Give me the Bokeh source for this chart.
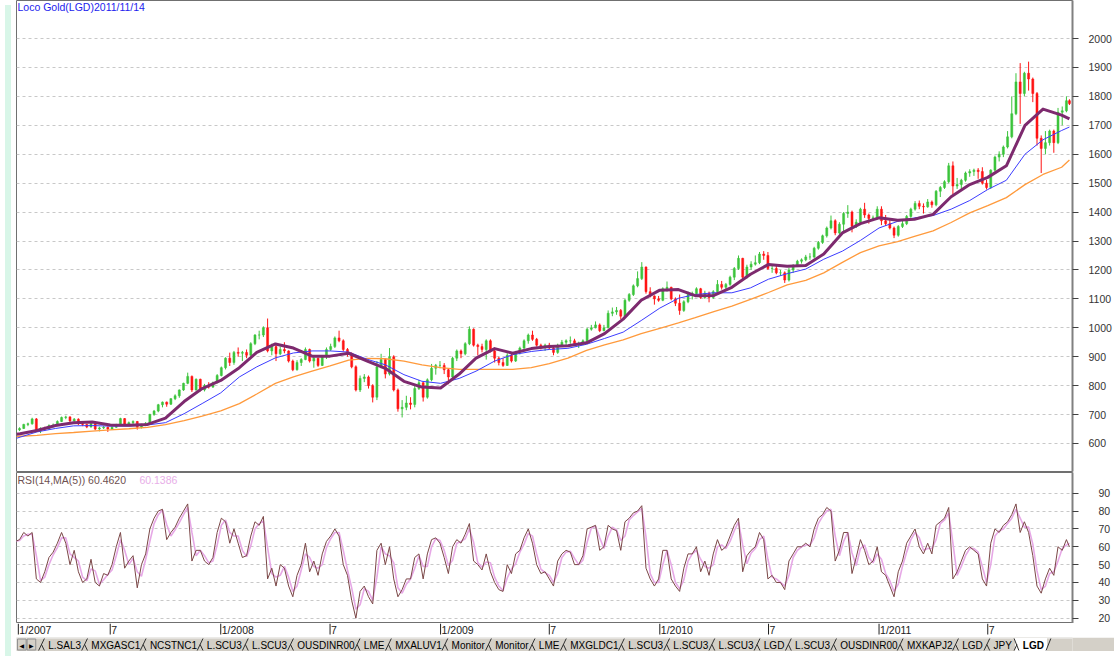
import pandas as pd
from bokeh.plotting import figure
from bokeh.models import Range1d, FixedTicker, Label, ColumnDataSource, Div
from bokeh.layouts import column, row
from bokeh.embed import file_html
from bokeh.resources import INLINE
from bokeh.core.properties import value

FONT = "Liberation Sans"
TITLE = "Loco Gold(LGD)2011/11/14"
RSI_TITLE = "RSI(14,MA(5))  60.4620"
RSI_MA_TITLE = "60.1386"

# ---------------- data (weekly) ----------------
week_end = list(pd.date_range("2007-01-26", "2011-11-11", freq="W-FRI")) + [pd.Timestamp("2011-11-14")]
open_first = 640
close = [
    647, 652, 666, 668, 685, 645, 652, 650, 662, 664, 676, 690, 692, 678, 684, 668, 666, 657,
    668, 650, 654, 656, 650, 656, 665, 686, 667, 672, 676, 656, 664, 670, 700, 712, 734, 743,
    736, 755, 765, 785, 808, 832, 785, 822, 785, 800, 795, 810, 835,
    862, 895, 880, 915, 912, 915, 905, 945, 975, 975, 1000, 920, 935, 910, 925, 920, 885,
    855, 880, 890, 925, 885, 895, 870, 900, 925, 935, 965, 955, 925, 910, 865, 785, 825, 830,
    800, 760, 865, 890, 840, 900, 785, 720, 725, 740, 735, 790, 810, 760, 820, 860, 870,
    870, 855, 830, 895, 920, 910, 945, 995, 940, 935, 925, 955, 920, 895, 880, 870, 905,
    885, 915, 930, 955, 975, 960, 940, 935, 940, 930, 915, 940, 950, 955, 955, 945, 945, 955,
    995, 1000, 1010, 990, 1000, 1050, 1055, 1060, 1040, 1095, 1115, 1145, 1170, 1210, 1125, 1110, 1100,
    1095, 1135, 1140, 1100, 1085, 1060, 1090, 1115, 1118, 1135, 1105, 1120, 1105,
    1125, 1150, 1140, 1150, 1175, 1205, 1240, 1175, 1210, 1220, 1225, 1255, 1250,
    1205, 1205, 1190, 1190, 1165, 1200, 1215, 1230, 1235, 1245, 1245, 1275, 1295,
    1318, 1345, 1370, 1328, 1358, 1395, 1400, 1350, 1365, 1410, 1390, 1378, 1380, 1410,
    1370, 1360, 1345, 1320, 1350, 1360, 1385, 1410, 1430, 1420, 1418, 1435,
    1425, 1472, 1485, 1505, 1560, 1490, 1495, 1510, 1535, 1540, 1545, 1540, 1500,
    1485, 1545, 1590, 1600, 1625, 1660, 1740, 1850, 1810, 1880, 1860, 1810, 1655, 1620,
    1640, 1680, 1640, 1745, 1750, 1785, 1775,
]
high = [
    652, 656, 668, 672, 689, 688, 656, 658, 666, 669, 680, 693, 696, 694, 688, 687, 671, 668,
    671, 670, 658, 660, 659, 659, 668, 689, 688, 676, 680, 678, 668, 674, 703, 716, 737, 745,
    745, 757, 770, 787, 810, 845, 835, 825, 824, 806, 812, 814, 840,
    866, 898, 914, 920, 932, 920, 925, 950, 978, 990, 1005, 1032, 945, 940, 935, 950, 922,
    890, 888, 895, 932, 928, 905, 897, 905, 932, 945, 970, 990, 960, 930, 915, 870, 835, 840,
    835, 805, 885, 910, 895, 930, 905, 790, 750, 765, 760, 800, 820, 812, 825, 875, 875,
    885, 878, 860, 900, 925, 925, 950, 1005, 998, 945, 945, 960, 960, 925, 900, 895, 912,
    910, 920, 935, 960, 980, 990, 965, 945, 945, 948, 935, 945, 958, 960, 970, 962, 952, 960,
    1000, 1010, 1022, 1015, 1010, 1060, 1070, 1072, 1065, 1100, 1120, 1150, 1195, 1227, 1212, 1140, 1112,
    1110, 1140, 1160, 1142, 1105, 1115, 1095, 1125, 1125, 1140, 1138, 1128, 1125,
    1130, 1165, 1162, 1155, 1180, 1210, 1250, 1242, 1218, 1230, 1250, 1262, 1265,
    1262, 1215, 1215, 1200, 1195, 1208, 1220, 1235, 1240, 1252, 1258, 1280, 1300,
    1322, 1350, 1388, 1375, 1365, 1400, 1424, 1405, 1375, 1415, 1432, 1395, 1388, 1420,
    1420, 1390, 1375, 1350, 1355, 1370, 1390, 1415, 1438, 1440, 1430, 1445,
    1440, 1476, 1490, 1510, 1570, 1575, 1518, 1515, 1540, 1548, 1550, 1552, 1555,
    1512, 1548, 1595, 1610, 1630, 1680, 1800, 1880, 1915, 1885, 1920, 1865, 1815, 1665,
    1680, 1685, 1685, 1760, 1765, 1800, 1790,
]
low = [
    636, 643, 650, 660, 665, 640, 636, 643, 648, 656, 661, 674, 684, 674, 675, 664, 660, 653,
    655, 646, 642, 650, 640, 647, 654, 663, 662, 662, 661, 648, 652, 660, 668, 696, 708, 725,
    727, 733, 750, 758, 782, 805, 778, 783, 780, 780, 790, 792, 808,
    832, 856, 868, 872, 900, 885, 895, 903, 940, 960, 968, 915, 905, 885, 905, 912, 880,
    850, 852, 868, 888, 880, 862, 865, 868, 892, 920, 930, 950, 918, 900, 860, 780, 778, 812,
    790, 742, 750, 860, 825, 835, 780, 710, 690, 715, 718, 725, 785, 745, 755, 815, 838,
    860, 840, 805, 825, 885, 895, 905, 940, 935, 905, 915, 890, 915, 880, 870, 865, 868,
    880, 882, 908, 925, 945, 955, 935, 925, 920, 925, 905, 910, 935, 940, 945, 938, 930, 940,
    950, 990, 998, 985, 988, 998, 1040, 1045, 1030, 1038, 1090, 1110, 1140, 1165, 1118, 1105, 1080,
    1090, 1092, 1125, 1095, 1075, 1045, 1055, 1085, 1098, 1110, 1100, 1100, 1088,
    1100, 1122, 1132, 1130, 1145, 1165, 1200, 1165, 1170, 1200, 1215, 1220, 1235,
    1200, 1190, 1185, 1180, 1155, 1160, 1190, 1210, 1222, 1230, 1235, 1240, 1270,
    1290, 1312, 1340, 1320, 1322, 1330, 1380, 1330, 1345, 1360, 1380, 1360, 1370, 1375,
    1355, 1352, 1340, 1310, 1315, 1345, 1355, 1380, 1405, 1410, 1395, 1415,
    1415, 1420, 1452, 1480, 1500, 1462, 1480, 1478, 1505, 1522, 1525, 1515, 1495,
    1478, 1480, 1540, 1575, 1590, 1620, 1655, 1735, 1705, 1800, 1820, 1780, 1630, 1535,
    1600, 1630, 1605, 1635, 1700, 1745, 1770,
]
rsi = [
    63, 64, 68, 66, 68, 42, 40, 46, 54, 57, 62, 68, 62, 50, 58, 46, 40, 42,
    53, 40, 38, 45, 44, 50, 60, 68, 48, 52, 55, 37, 50, 56, 70, 76, 80, 81,
    64, 68, 71, 76, 80, 84, 52, 58, 58, 52, 50, 54, 68,
    76, 74, 62, 70, 62, 54, 55, 66, 74, 72, 77, 42, 48, 38, 50, 48, 38,
    32, 44, 50, 62, 46, 52, 44, 56, 63, 66, 70, 66, 50, 44, 30, 20, 35, 38,
    32, 28, 58, 62, 50, 60, 42, 32, 36, 42, 42, 54, 56, 42, 56, 64, 65,
    62, 54, 45, 60, 64, 62, 67, 73, 52, 50, 47, 56, 46, 40, 36, 35, 50,
    45, 56, 58, 65, 70, 62, 50, 45, 46, 42, 38, 52, 56, 58, 57, 50, 50, 55,
    70, 71, 72, 58, 60, 72, 70, 69, 58, 74, 76, 79, 80, 83, 48, 42, 38,
    42, 58, 58, 42, 38, 35, 48, 56, 56, 60, 46, 52, 44,
    56, 64, 58, 60, 66, 72, 76, 46, 55, 58, 60, 68, 64,
    42, 44, 40, 40, 36, 52, 56, 60, 60, 62, 60, 70, 76,
    78, 82, 80, 52, 58, 68, 68, 45, 54, 64, 58, 50, 52, 60,
    46, 44, 38, 32, 46, 52, 62, 66, 70, 60, 56, 62,
    56, 72, 74, 76, 82, 42, 46, 52, 58, 60, 58, 56, 42,
    38, 62, 70, 68, 72, 74, 78, 84, 68, 74, 68, 55, 38, 34,
    42, 48, 44, 60, 58, 64, 60,
]
ma_dates = [pd.Timestamp("2007-01-26")] + list(pd.date_range("2007-02-01", "2011-11-01", freq="MS")) + [pd.Timestamp("2011-11-14")]
ma_fast = [
    632, 634, 645, 662, 672, 674, 664, 663, 666, 688, 745, 790,
    818, 862, 915, 944, 930, 902, 902, 912, 885, 860, 815, 795,
    792, 840, 895, 928, 912, 928, 935, 938, 948, 980, 1030, 1095,
    1130, 1132, 1111, 1112, 1140, 1185, 1219, 1213, 1215, 1255, 1328, 1360,
    1380, 1372, 1375, 1392, 1453, 1495, 1520, 1560, 1700, 1756, 1735, 1722,
]
ma_mid = [
    618, 622, 640, 652, 661, 662, 660, 660, 664, 672, 703, 738,
    775, 830, 865, 896, 913, 920, 920, 916, 891, 872, 838, 815,
    808, 825, 850, 885, 907, 918, 925, 929, 943, 963, 985, 1025,
    1068, 1102, 1115, 1121, 1121, 1138, 1168, 1187, 1203, 1237, 1265, 1302,
    1345, 1368, 1380, 1388, 1410, 1440, 1478, 1510, 1600, 1650, 1682, 1694,
]
ma_slow = [
    624, 625, 628, 634, 638, 643, 647, 651, 656, 665, 679, 695,
    713, 738, 771, 808, 830, 850, 868, 888, 894, 893, 885, 872,
    862, 856, 856, 856, 856, 862, 876, 895, 922, 941, 958, 980,
    998, 1017, 1035, 1056, 1075, 1098, 1122, 1148, 1164, 1190, 1226, 1260,
    1283, 1298, 1316, 1335, 1364, 1397, 1422, 1450, 1495, 1530, 1555, 1580,
]
price_ticks = list(range(600, 2001, 100))
rsi_ticks = list(range(20, 91, 10))
date_ticks = ["2007-01-29", "2007-07-01", "2008-01-01", "2008-07-01", "2009-01-01",
              "2009-07-01", "2010-01-01", "2010-07-01", "2011-01-01", "2011-07-01"]
date_labels = ["1/2007", "7", "1/2008", "7", "1/2009", "7", "1/2010", "7", "1/2011", "7"]
tab_labels = ["L.SAL3", "MXGASC1", "NCSTNC1", "L.SCU3", "L.SCU3", "OUSDINR00", "LME", "MXALUV1",
              "Monitor", "Monitor", "LME", "MXGLDC1", "L.SCU3", "L.SCU3", "L.SCU3", "LGD", "L.SCU3",
              "OUSDINR00", "MXKAPJ2", "LGD", "JPY", "LGD"]

# ---------------- derived ----------------
BASE = pd.Timestamp("2007-01-01")


def dn(t):
    return float((pd.Timestamp(t) - BASE).days)


n = min(len(week_end), len(close), len(high), len(low), len(rsi))
opens = [open_first] + close[:n - 1]
xc = [dn(t) - (2 if t.weekday() == 4 else 0) for t in week_end[:n]]
GREEN, RED = "#3CC43C", "#FF1414"
cols = [GREEN if c >= o else RED for o, c in zip(opens, close[:n])]
src = ColumnDataSource(dict(
    x=xc, h=high[:n], l=low[:n],
    top=[max(o, c) for o, c in zip(opens, close[:n])],
    bot=[min(o, c) for o, c in zip(opens, close[:n])],
    col=cols))
rsi_ma = pd.Series(rsi[:n]).rolling(2, min_periods=1).mean().tolist()

W = 1098
FRAME_W = 1057
X0, X1 = 24.95, 1783.1
P0, P1 = 503.2, 2131.4
R0, R1 = 17.03, 101.59


def px_x(px):
    return X0 + (px - 14) * (X1 - X0) / FRAME_W


def style_axis(ax, ticks, standoff):
    ax.ticker = FixedTicker(ticks=ticks)
    ax.axis_line_color = "#808080"
    ax.axis_line_width = 2
    ax.major_tick_line_color = "#404040"
    ax.major_tick_out = 6
    ax.major_tick_in = 0
    ax.minor_tick_line_color = None
    ax.major_label_text_font = FONT
    ax.major_label_text_font_size = "10.5px"
    ax.major_label_text_color = "#333333"
    ax.major_label_standoff = standoff


# ---------------- price panel ----------------
p = figure(width=W, height=472, x_range=Range1d(X0, X1), y_range=Range1d(P0, P1),
           output_backend="svg", toolbar_location=None, x_axis_location=None,
           y_axis_location="right", min_border_left=0, min_border_right=41,
           min_border_top=0, min_border_bottom=1, background_fill_color="white",
           border_fill_color="white", outline_line_color="#707070")
p.xgrid.visible = False
p.ygrid.ticker = FixedTicker(ticks=price_ticks)
p.ygrid.grid_line_color = "#C8C8C8"
p.ygrid.grid_line_dash = "3 3"
style_axis(p.yaxis[0], price_ticks, 10)

p.segment(x0="x", y0="h", x1="x", y1="l", color="col", line_width=1, source=src)
p.vbar(x="x", width=3.4, top="top", bottom="bot", fill_color="col", line_color="col",
       line_width=0.5, source=src)

mx = [dn(t) for t in ma_dates]
p.line(mx, ma_slow, color="#FF9A3C", line_width=1.3)
p.line(mx, ma_mid, color="#3C3CFF", line_width=1)
p.line(mx, ma_fast, color="#7D2A6E", line_width=3, line_join="round")

p.add_layout(Label(x=px_x(15), y=P1 - 6 * (P1 - P0) / 471, text=TITLE, text_font=FONT,
                   text_font_size="10.5px", text_color="#2222EE", text_baseline="middle"))

# ---------------- RSI panel ----------------
r = figure(width=W, height=151, x_range=p.x_range, y_range=Range1d(R0, R1),
           output_backend="svg", toolbar_location=None, x_axis_location=None,
           y_axis_location="right", min_border_left=0, min_border_right=41,
           min_border_top=0, min_border_bottom=0, background_fill_color="white",
           border_fill_color="white", outline_line_color="#707070")
r.xgrid.visible = False
r.ygrid.ticker = FixedTicker(ticks=rsi_ticks)
r.ygrid.grid_line_color = "#C8C8C8"
r.ygrid.grid_line_dash = "3 3"
style_axis(r.yaxis[0], rsi_ticks, 20)
r.line(xc, rsi_ma, color="#E6A8E6", line_width=1.6)
r.line(xc, rsi[:n], color="#7A4646", line_width=1)
ry = R1 - 7 * (R1 - R0) / 151
r.add_layout(Label(x=px_x(15), y=ry, text=RSI_TITLE, text_font=FONT, text_font_size="10.5px",
                   text_color="#6E5050", text_baseline="middle"))
r.add_layout(Label(x=px_x(137), y=ry, text=RSI_MA_TITLE, text_font=FONT, text_font_size="10.5px",
                   text_color="#E8AEE8", text_baseline="middle"))

# ---------------- date row ----------------
d = figure(width=W, height=14, x_range=p.x_range, y_range=Range1d(0, 14),
           output_backend="svg", toolbar_location=None, x_axis_location=None,
           y_axis_location=None, min_border_left=0, min_border_right=41,
           min_border_top=0, min_border_bottom=0, outline_line_color=None,
           background_fill_color="white", border_fill_color="white")
d.xgrid.visible = False
d.ygrid.visible = False
tx = [dn(t) for t in date_ticks]
d.segment(x0=tx, y0=[3] * len(tx), x1=tx, y1=[14] * len(tx), color="#202020", line_width=1)
d.text(x=tx, y=[7.5] * len(tx), text=date_labels, text_font=value(FONT), text_font_size="10.5px",
       text_align="left", text_baseline="middle", x_offset=1, text_color="#202020")

# ---------------- sheet tabs ----------------
AW = {"A": .667, "C": .722, "D": .722, "E": .667, "G": .778, "I": .278, "J": .5, "K": .667,
      "L": .556, "M": .833, "N": .722, "O": .778, "P": .667, "R": .722, "S": .667, "T": .611,
      "U": .722, "V": .667, "X": .667, "Y": .667, ".": .278, "o": .556, "n": .556, "i": .222,
      "t": .278, "r": .333}


def tw(s, size=10.0):
    return sum(AW.get(ch, .556) for ch in s) * size


t = figure(width=W, height=14, x_range=Range1d(14, 1112), y_range=Range1d(659, 645),
           output_backend="svg", toolbar_location=None, x_axis_location=None,
           y_axis_location=None, min_border=0, outline_line_color=None,
           background_fill_color="#D4D0C8", border_fill_color="#D4D0C8")
t.xgrid.visible = False
t.ygrid.visible = False
t.segment(x0=[14], y0=[645.5], x1=[1112], y1=[645.5], color="#F4F4F4", line_width=1)
t.rect(x=[19.5, 29.5], y=[652, 652], width=9, height=11, fill_color="#D4D0C8",
       line_color="#909090")
t.text(x=[19.5, 29.5], y=[652.5, 652.5], text=["\u25C0", "\u25B6"], text_font=value("DejaVu Sans"),
       text_font_size="6px", text_align="center", text_baseline="middle", text_color="#000000")
xs = []
cur = 47.0
for lab in tab_labels:
    xs.append(cur)
    cur += tw(lab) + 12.0
last_x = xs[-1]
last_w = tw(tab_labels[-1]) * 1.08
# active tab body
t.quad(left=[last_x - 8], right=[last_x + last_w + 3], top=[645.5], bottom=[658.5],
       fill_color="#FFFFFF", line_color=None)
sx0, sy0, sx1, sy1 = [], [], [], []
for i, s in enumerate(xs):
    if i == len(xs) - 1:
        sx0 += [s - 9, s - 6]
        sy0 += [646, 652]
        sx1 += [s - 4, s - 9]
        sy1 += [658, 658]
    else:
        sx0 += [s - 10, s - 7]
        sy0 += [658, 652]
        sx1 += [s - 4, s - 4]
        sy1 += [646, 658]
sx0.append(last_x + last_w + 2)
sy0.append(658)
sx1.append(last_x + last_w + 7)
sy1.append(646)
t.segment(x0=sx0, y0=sy0, x1=sx1, y1=sy1, color="#303030", line_width=1)
t.text(x=xs[:-1], y=[652.5] * (len(xs) - 1), text=tab_labels[:-1], text_font=value(FONT),
       text_font_size="10px", text_align="left", text_baseline="middle", text_color="#000000")
t.text(x=[last_x], y=[652.5], text=[tab_labels[-1]], text_font=value(FONT),
       text_font_size="10px", text_font_style=value("bold"), text_align="left",
       text_baseline="middle", text_color="#000000")

left = Div(text="", width=6, height=651, styles={"background-color": "#D8F6E8"})
layout = row(left, column(p, r, d, t))

open("out.html", "w").write(file_html(layout, INLINE))
